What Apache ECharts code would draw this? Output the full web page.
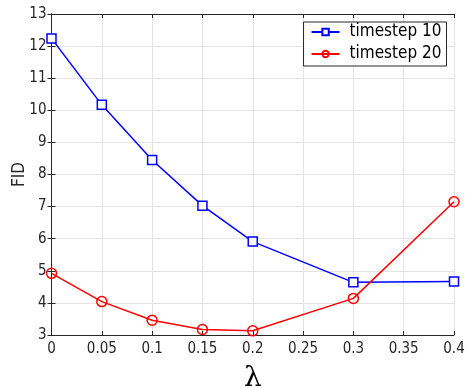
<!DOCTYPE html>
<html><head><meta charset="utf-8">
<script src="https://cdn.jsdelivr.net/npm/echarts@6/dist/echarts.min.js"></script>
<style>html,body{margin:0;padding:0;background:#fff}#c{width:466px;height:388px}</style>
</head><body><div id="c"></div>
<script>
const lambdas = [0, 0.05, 0.1, 0.15, 0.2, 0.3, 0.4];
const fid10 = [12.24, 10.17, 8.45, 7.03, 5.91, 4.64, 4.67];
const fid20 = [4.92, 4.04, 3.46, 3.17, 3.13, 4.14, 7.15];
const seriesNames = ['timestep 10', 'timestep 20'];
const xLabel = 'λ';
const yLabel = 'FID';

const font = '"DejaVu Sans Condensed", "DejaVu Sans", sans-serif';
const axisCol = '#262626';
const gridCol = '#e3e3e3';
const chart = echarts.init(document.getElementById('c'), null, {renderer: 'canvas'});
const baseX = {
  type: 'value', min: 0, max: 0.4, interval: 0.05,
  axisLine: {show: true, lineStyle: {color: axisCol, width: 1}},
  axisTick: {show: true, inside: true, length: 4, lineStyle: {color: axisCol}},
};
const baseY = {
  type: 'value', min: 3, max: 13, interval: 1,
  axisLine: {show: true, lineStyle: {color: axisCol, width: 1}},
  axisTick: {show: true, inside: true, length: 4, lineStyle: {color: axisCol}},
};
chart.setOption({
  animation: false,
  grid: {left: 51.5, right: 12, top: 14, bottom: 53, outerBoundsMode: 'none', containLabel: false},
  xAxis: [
    Object.assign({}, baseX, {
      position: 'bottom',
      axisLabel: {color: axisCol, fontSize: 15, fontFamily: font, margin: 7,
        formatter: v => String(+v.toFixed(2))},
      splitLine: {show: true, lineStyle: {color: gridCol, width: 1}},
      name: xLabel, nameLocation: 'middle', nameGap: 30, nameMoveOverlap: false,
      nameTextStyle: {color: '#000', fontSize: 28, fontFamily: 'DejaVu Serif'}
    }),
    Object.assign({}, baseX, {
      position: 'top', axisLabel: {show: false}, splitLine: {show: false}
    })
  ],
  yAxis: [
    Object.assign({}, baseY, {
      position: 'left',
      axisLabel: {color: axisCol, fontSize: 15, fontFamily: font, margin: 5},
      splitLine: {show: true, lineStyle: {color: gridCol, width: 1}},
      name: yLabel, nameLocation: 'middle', nameGap: 23, nameMoveOverlap: false,
      nameTextStyle: {color: axisCol, fontSize: 17, fontFamily: font}
    }),
    Object.assign({}, baseY, {
      position: 'right', axisLabel: {show: false}, splitLine: {show: false}
    })
  ],
  legend: {
    show: true,
    right: 19.5, top: 22,
    orient: 'vertical',
    backgroundColor: '#fff',
    borderColor: '#262626', borderWidth: 1,
    padding: [1, 5, 3, 7],
    itemGap: 4,
    itemWidth: 28, itemHeight: 8,
    textStyle: {color: '#000', fontSize: 17, fontFamily: font, lineHeight: 18, padding: [0, 0, 0, 5]},
    data: seriesNames
  },
  series: [
    {
      name: seriesNames[0], type: 'line',
      data: lambdas.map((x, i) => [x, fid10[i]]),
      symbol: 'rect', symbolSize: 9, showAllSymbol: true,
      lineStyle: {color: '#0000ff', width: 1.5},
      itemStyle: {color: '#fff', borderColor: '#0000ff', borderWidth: 1.5},
      z: 3
    },
    {
      name: seriesNames[1], type: 'line',
      data: lambdas.map((x, i) => [x, fid20[i]]),
      symbol: 'circle', symbolSize: 10, showAllSymbol: true,
      lineStyle: {color: '#ff0000', width: 1.5},
      itemStyle: {color: 'rgba(255,255,255,0)', borderColor: '#ff0000', borderWidth: 1.5},
      z: 4
    }
  ]
});
</script></body></html>
